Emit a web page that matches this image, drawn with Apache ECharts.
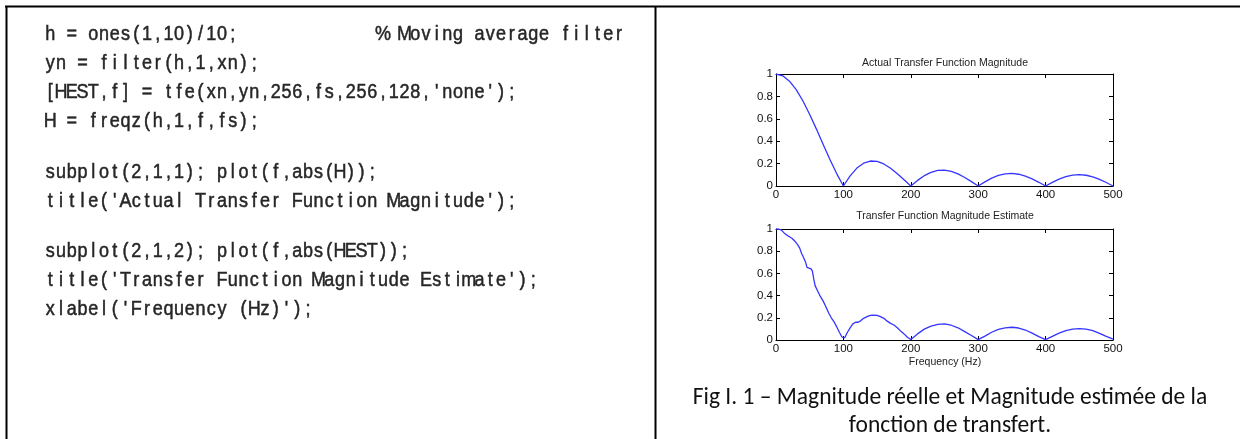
<!DOCTYPE html>
<html>
<head>
<meta charset="utf-8">
<script src="https://cdn.jsdelivr.net/npm/echarts@6/dist/echarts.min.js"></script>
<style>
html,body{margin:0;padding:0;background:#fff;}
#chart{width:1243px;height:439px;}
</style>
</head>
<body>
<div id="chart"></div>
<script>
// ---- data ----
var codeLines = [
  "h = ones(1,10)/10;             % Moving average filter",
  "yn = filter(h,1,xn);",
  "[HEST,f] = tfe(xn,yn,256,fs,256,128,'none');",
  "H = freqz(h,1,f,fs);",
  "subplot(2,1,1); plot(f,abs(H));",
  "title('Actual Transfer Function Magnitude');",
  "subplot(2,1,2); plot(f,abs(HEST));",
  "title('Transfer Function Magnitude Estimate');",
  "xlabel('Frequency (Hz)');"
];
var codeLineY = [34, 63, 92, 121, 172, 201, 251, 280, 309];

var title1 = "Actual Transfer Function Magnitude";
var title2 = "Transfer Function Magnitude Estimate";
var xAxisName = "Frequency (Hz)";
var caption1 = "Fig I. 1 \u2013 Magnitude r\u00e9elle et Magnitude estim\u00e9e de la";
var caption2 = "fonction de transfert.";

var xTicks = [0, 100, 200, 300, 400, 500];
var yTicks = [0, 0.2, 0.4, 0.6, 0.8, 1];

var freqActual = [0,10,20,30,40,50,60,70,80,90,100,110,120,130,140,150,160,170,180,190,200,
  210,220,230,240,250,260,270,280,290,300,310,320,330,340,350,360,370,380,390,400,
  410,420,430,440,450,460,470,480,490,500];
var magActual = [1,0.984,0.936,0.860,0.759,0.639,0.508,0.371,0.236,0.111,0,
  0.091,0.160,0.204,0.223,0.220,0.197,0.159,0.110,0.055,0,
  0.050,0.092,0.122,0.139,0.141,0.130,0.108,0.076,0.039,0,
  0.037,0.070,0.094,0.108,0.112,0.105,0.088,0.063,0.033,0,
  0.032,0.061,0.083,0.097,0.101,0.096,0.081,0.059,0.031,0];

var freqEst = [0,4,8,12,16,20,24,28,32,35,38,40,42,44,46,49,52,54,56,58,62,66,70,74,78,82,86,90,94,98,100,
  102,106,110,114,118,122,126,130,135,140,145,150,155,160,165,170,175,180,185,190,195,200,
  205,210,220,230,240,250,260,270,280,290,300,310,320,330,340,350,360,370,380,390,400,
  410,420,430,440,450,460,470,480,490,500];
var magEst = [1,1,0.99,0.965,0.945,0.93,0.915,0.89,0.86,0.83,0.78,0.755,0.75,0.70,0.655,0.648,0.64,0.62,0.55,0.49,0.44,0.39,0.35,0.30,0.245,0.20,0.165,0.12,0.07,0.025,0.01,
  0.02,0.07,0.11,0.145,0.16,0.16,0.175,0.195,0.21,0.222,0.225,0.222,0.21,0.195,0.17,0.15,0.135,0.11,0.08,0.055,0.025,0.005,
  0.03,0.055,0.098,0.125,0.14,0.145,0.133,0.11,0.075,0.04,0.003,0.035,0.07,0.095,0.11,0.115,0.108,0.09,0.062,0.03,0.003,
  0.032,0.062,0.085,0.098,0.103,0.098,0.085,0.06,0.032,0.008];

// ---- build ----
function pairs(xs, ys){ var out=[]; for(var i=0;i<xs.length;i++) out.push([xs[i], ys[i]]); return out; }

var chart = echarts.init(document.getElementById('chart'), null, {renderer:'canvas'});

var codeFont = "20px 'Liberation Sans', Arial, sans-serif";
var codeX0 = 45, codeAdv = 10.73;
var graphics = [];
// table borders
graphics.push({type:'line', shape:{x1:5,y1:6.5,x2:1240,y2:6.5}, style:{stroke:'#000',lineWidth:2}});
graphics.push({type:'line', shape:{x1:6.5,y1:6,x2:6.5,y2:439}, style:{stroke:'#000',lineWidth:2}});
graphics.push({type:'line', shape:{x1:655.5,y1:6,x2:655.5,y2:439}, style:{stroke:'#000',lineWidth:2}});
// code text, monospaced grid with narrowed glyphs
codeLines.forEach(function(line, li){
  for (var i=0;i<line.length;i++){
    var ch = line[i];
    if (ch === ' ') continue;
    graphics.push({type:'text', x: codeX0 + (i+0.5)*codeAdv, y: codeLineY[li], scaleX:0.9,
      style:{text: ch, font: codeFont, fill:'#262626', stroke:'#262626', lineWidth:0.5, textAlign:'center', textVerticalAlign:'middle'}});
  }
});
var sansFam = "'Liberation Sans', Arial, sans-serif";
graphics.push({type:'text', x:945, y:63, style:{text:title1, font:"10.5px " + sansFam, fill:'#222', textAlign:'center', textVerticalAlign:'middle'}});
graphics.push({type:'text', x:945, y:216, style:{text:title2, font:"10.5px " + sansFam, fill:'#222', textAlign:'center', textVerticalAlign:'middle'}});
graphics.push({type:'text', x:945, y:362, style:{text:xAxisName, font:"10.5px " + sansFam, fill:'#222', textAlign:'center', textVerticalAlign:'middle'}});
var capFont = "23.5px Carlito, Lato, 'Open Sans', sans-serif";
graphics.push({type:'text', x:950, y:398, style:{text:caption1, font:capFont, fill:'#111', textAlign:'center', textVerticalAlign:'middle'}});
graphics.push({type:'text', x:950, y:426, style:{text:caption2, font:capFont, fill:'#111', textAlign:'center', textVerticalAlign:'middle'}});

var grids = [
  {left:776, top:74, width:337, height:112},
  {left:776, top:229, width:337, height:111}
];
var axisCommon = {
  axisLine:{show:true, onZero:false, lineStyle:{color:'#000', width:1}},
  axisTick:{show:true, inside:true, length:4, lineStyle:{color:'#000'}},
  splitLine:{show:false}
};
function xAx(gi, pos, labels){
  return Object.assign({}, axisCommon, {
    type:'value', gridIndex:gi, position:pos, min:xTicks[0], max:xTicks[xTicks.length-1], interval:xTicks[1]-xTicks[0],
    axisLabel:{show:labels, fontSize:11.5, color:'#111', fontFamily:sansFam, margin:3}
  });
}
function yAx(gi, pos, labels){
  return Object.assign({}, axisCommon, {
    type:'value', gridIndex:gi, position:pos, min:yTicks[0], max:yTicks[yTicks.length-1], interval:yTicks[1]-yTicks[0],
    axisLabel:{show:labels, fontSize:11.5, color:'#111', fontFamily:sansFam, margin:3}
  });
}
var lineStyle = {color:'#3535ff', width:1.3};

chart.setOption({
  animation:false,
  backgroundColor:'#fff',
  grid: grids,
  xAxis:[xAx(0,'bottom',true), xAx(0,'top',false), xAx(1,'bottom',true), xAx(1,'top',false)],
  yAxis:[yAx(0,'left',true), yAx(0,'right',false), yAx(1,'left',true), yAx(1,'right',false)],
  series:[
    {type:'line', xAxisIndex:0, yAxisIndex:0, data:pairs(freqActual, magActual), showSymbol:false, lineStyle:lineStyle, smooth:false},
    {type:'line', xAxisIndex:2, yAxisIndex:2, data:pairs(freqEst, magEst), showSymbol:false, lineStyle:lineStyle, smooth:false}
  ],
  graphic: graphics
});
</script>
</body>
</html>
